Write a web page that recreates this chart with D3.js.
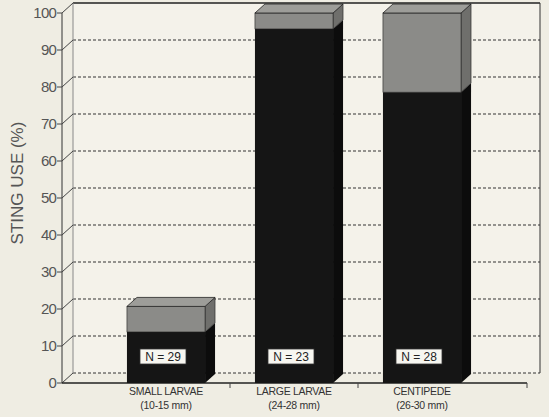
<!DOCTYPE html>
<html>
<head>
<meta charset="utf-8">
<script src="https://cdn.jsdelivr.net/npm/d3@7"></script>
<style>
  html, body { margin: 0; padding: 0; background: #efede3; }
  svg { display: block; }
  text { font-family: "Liberation Sans", Arial, sans-serif; }
</style>
</head>
<body>
<svg id="chart" width="549" height="417"></svg>
<script>
// ---- data ----
const categories = ["SMALL LARVAE", "LARGE LARVAE", "CENTIPEDE"];
const sizeLabels = ["(10-15 mm)", "(24-28 mm)", "(26-30 mm)"];
const stingAlways = [13.8, 95.7, 78.6];   // dark segment (%)
const stingTotal = [20.7, 100, 100];      // top of grey segment (%)
const sampleN = [29, 23, 28];
const yTicks = [0, 10, 20, 30, 40, 50, 60, 70, 80, 90, 100];

// ---- layout ----
const axisX = 62, axisRight = 527;
const wallDX = 11, wallDY = -10;
const barDX = 10, barDY = -9;

const svg = d3.select("#chart");
const y = d3.scaleLinear().domain([0, 100]).range([383, 13]);
const x = d3.scaleBand().domain(categories).range([102, 486]).paddingInner(0.39).paddingOuter(0.195);

// back wall
const backL = axisX + wallDX, backR = 540;
const yb = v => y(v) + wallDY;
svg.append("rect").attr("x", backL).attr("y", yb(100)).attr("width", backR - backL)
  .attr("height", yb(0) - yb(100)).attr("fill", "#f4f2ea");

// gridlines on back wall
svg.append("g").selectAll("line").data(yTicks.filter(t => t < 100)).join("line")
  .attr("x1", backL).attr("x2", backR)
  .attr("y1", d => yb(d)).attr("y2", d => yb(d))
  .attr("stroke", "#333").attr("stroke-width", 1).attr("stroke-dasharray", "3,2");

// back wall edges
svg.append("line").attr("x1", backL).attr("x2", backR).attr("y1", yb(100)).attr("y2", yb(100))
  .attr("stroke", "#222").attr("stroke-width", 1.3);
svg.append("line").attr("x1", backR).attr("x2", backR).attr("y1", yb(100)).attr("y2", yb(0))
  .attr("stroke", "#333").attr("stroke-width", 1);
svg.append("line").attr("x1", backL).attr("x2", backL).attr("y1", yb(100)).attr("y2", yb(0))
  .attr("stroke", "#888").attr("stroke-width", 1);

// left axis: front line, ticks, diagonals, labels
svg.append("line").attr("x1", axisX).attr("x2", axisX).attr("y1", y(100)).attr("y2", y(0))
  .attr("stroke", "#333").attr("stroke-width", 1);
const tg = svg.append("g");
tg.selectAll("line.tick").data(yTicks).join("line").attr("class", "tick")
  .attr("x1", axisX - 5).attr("x2", axisX).attr("y1", d => y(d)).attr("y2", d => y(d))
  .attr("stroke", "#444");
tg.selectAll("line.diag").data(yTicks).join("line").attr("class", "diag")
  .attr("x1", axisX).attr("x2", axisX + wallDX).attr("y1", d => y(d)).attr("y2", d => yb(d))
  .attr("stroke", "#444");
tg.selectAll("text").data(yTicks).join("text")
  .attr("x", axisX - 6).attr("y", d => y(d) + 5).attr("text-anchor", "end")
  .attr("font-size", 15).attr("letter-spacing", -0.8).attr("fill", "#555").text(d => d);

svg.append("text").attr("transform", "translate(23,183) rotate(-90)")
  .attr("text-anchor", "middle").attr("font-size", 17).attr("fill", "#555").text("STING USE (%)");

// floor front edge + ticks
svg.append("line").attr("x1", axisX).attr("x2", axisRight).attr("y1", y(0)).attr("y2", y(0))
  .attr("stroke", "#222").attr("stroke-width", 1.3);
const bounds = [x(categories[1]) - x.step() * x.paddingInner() / 2,
                x(categories[2]) - x.step() * x.paddingInner() / 2, axisRight];
svg.append("g").selectAll("line").data(bounds).join("line")
  .attr("x1", d => d).attr("x2", d => d).attr("y1", y(0)).attr("y2", y(0) + 5)
  .attr("stroke", "#444");

// bars
const bars = svg.append("g");
categories.forEach((c, i) => {
  const x0 = x(c), bw = x.bandwidth(), x1 = x0 + bw;
  const yd = y(stingAlways[i]), yt = y(stingTotal[i]), y0 = y(0);
  const g = bars.append("g");
  g.append("path").attr("d", `M${x1},${y0} L${x1 + barDX},${y0 + barDY} L${x1 + barDX},${yd + barDY} L${x1},${yd} Z`)
    .attr("fill", "#0c0c0c");
  g.append("rect").attr("x", x0).attr("y", yd).attr("width", bw).attr("height", y0 - yd).attr("fill", "#151515");
  g.append("path").attr("d", `M${x1},${yd} L${x1 + barDX},${yd + barDY} L${x1 + barDX},${yt + barDY} L${x1},${yt} Z`)
    .attr("fill", "#6f6f6c").attr("stroke", "#222").attr("stroke-width", 0.6);
  g.append("rect").attr("x", x0).attr("y", yt).attr("width", bw).attr("height", yd - yt)
    .attr("fill", "#8b8b88").attr("stroke", "#222").attr("stroke-width", 0.6);
  g.append("path").attr("d", `M${x0},${yt} L${x0 + barDX},${yt + barDY} L${x1 + barDX},${yt + barDY} L${x1},${yt} Z`)
    .attr("fill", "#9d9d99").attr("stroke", "#222").attr("stroke-width", 0.8);
  const cx = x0 + bw / 2 - 3;
  g.append("rect").attr("x", cx - 23).attr("y", 349).attr("width", 46).attr("height", 15)
    .attr("fill", "#f7f6f0").attr("stroke", "#333").attr("stroke-width", 0.8);
  g.append("text").attr("x", cx).attr("y", 361).attr("text-anchor", "middle")
    .attr("font-size", 12).attr("fill", "#222").text(`N = ${sampleN[i]}`);
  g.append("text").attr("x", x0 + bw / 2).attr("y", 395).attr("text-anchor", "middle")
    .attr("font-size", 10.5).attr("letter-spacing", -0.3).attr("fill", "#333").text(c);
  g.append("text").attr("x", x0 + bw / 2).attr("y", 409).attr("text-anchor", "middle")
    .attr("font-size", 10.5).attr("letter-spacing", -0.3).attr("fill", "#333").text(sizeLabels[i]);
});
</script>
</body>
</html>
